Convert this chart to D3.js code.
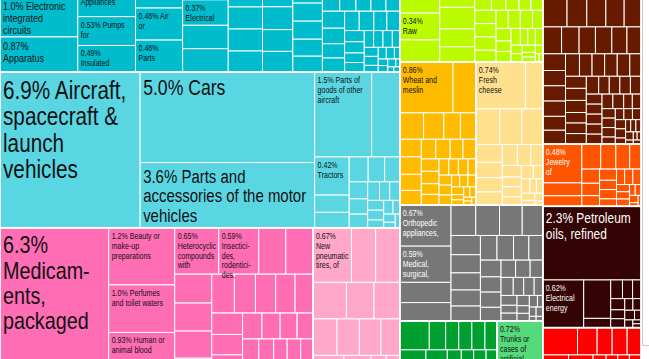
<!DOCTYPE html>
<html>
<head>
<meta charset="utf-8">
<title>Exports treemap</title>
<script src="https://cdn.jsdelivr.net/npm/d3@7/dist/d3.min.js"></script>
<style>
html,body{margin:0;padding:0;background:#fff;overflow:hidden;}
svg{display:block;}
</style>
</head>
<body>
<svg id="chart" width="649" height="359"></svg>
<script>
// ---------------- data: share of total exports (%) ----------------
// Machinery: first four columns of the strip, then the remaining products
const machineryCol1 = [0.31, 1.0, 0.87];
const machineryCol1Names = ["", "Electronic integrated circuits", "Apparatus"];
const machineryCol2 = [0.60, 0.53, 0.49];
const machineryCol2Names = ["Appliances", "Pumps for", "Insulated"];
const machineryCol3 = [0.36, 0.48, 0.48];
const machineryCol3Names = ["", "Air or", "Parts"];
const machineryCol4 = [0.23, 0.37, 0.34, 0.34];
const machineryCol4Names = ["", "Electrical"];
const machineryRest = [0.25,0.24,0.24,0.23,0.22,0.22,0.21,0.2,0.18,0.17,0.17,0.16,0.15,0.15,0.14,0.13,0.13,0.12,0.12,0.11,0.10,0.10,0.09,0.09,0.08,0.08,0.07,0.07,0.06,0.06,0.05,0.05,0.05,0.04,0.04,0.04,0.03,0.03,0.03,0.02,0.02,0.02,0.02,0.01,0.01,0.01];

const transportValues = [6.94,5.02,3.62,1.54,0.76,0.42,0.19,0.17,0.15,0.13,0.12,0.10,0.09,0.08,0.07,0.06,0.06,0.05,0.05,0.04,0.04,0.03,0.03,0.02,0.02];
const transportNames = ["Aircraft, spacecraft & launch vehicles", "Cars", "Parts and accessories of the motor vehicles", "Parts of goods of other aircraft", "", "Tractors"];

const chemicalValues = [6.3,1.2,1.0,0.93,0.70,0.65,0.59,0.40,0.40,0.34,0.33,0.32,0.31,0.3,0.28,0.26,0.25,0.24,0.22,0.21,0.2,0.19,0.18,0.17,0.16,0.15,0.14,0.13,0.12,0.11,0.1,0.1,0.09,0.09,0.08,0.08,0.08,0.07,0.07,0.06,0.06,0.06,0.05,0.05,0.05,0.04,0.04,0.04,0.03,0.03,0.03,0.02,0.02,0.02];
const chemicalNames = ["Medicam\u00ADents, packaged", "Beauty or make-up preparations", "Perfumes and toilet waters", "Human or animal blood", "", "Heterocyclic compounds with", "Insectici\u00ADdes, rodentici\u00ADdes,"];

const plasticValues = [0.67,0.42,0.42,0.39,0.32,0.30,0.28,0.26,0.25,0.22,0.2,0.18,0.16,0.14,0.12,0.11,0.1,0.09,0.08,0.07,0.06,0.05,0.05,0.04,0.03,0.03];
const plasticNames = ["New pneumatic tires, of"];

const vegetableValues = [0.37,0.34,0.28,0.26,0.24,0.2,0.17,0.14,0.12,0.11,0.1,0.1,0.09,0.09,0.09,0.08,0.07,0.07,0.07,0.06,0.06,0.05,0.05,0.05,0.04,0.04,0.04,0.03,0.03,0.03,0.02,0.02,0.02,0.01,0.01];
const vegetableNames = ["", "Raw"];

const cerealValues = [0.86,0.37,0.2,0.17,0.14,0.13,0.12,0.12,0.11,0.1,0.09,0.09,0.08,0.08,0.07,0.07,0.06,0.06,0.05,0.05,0.05,0.04,0.04,0.04,0.04,0.03,0.03,0.03,0.03,0.02,0.02,0.02,0.02,0.01,0.01,0.01];
const cerealNames = ["Wheat and meslin"];

const dairyValues = [0.74,0.26,0.27,0.25,0.24,0.15,0.13,0.12,0.11,0.1,0.09,0.08,0.07,0.06,0.06,0.05,0.05,0.04,0.04,0.03,0.03,0.03,0.02,0.02,0.01];
const dairyNames = ["Fresh cheese"];

const instrumentValues = [0.67,0.59,0.33,0.30,0.24,0.23,0.22,0.2,0.18,0.17,0.16,0.15,0.14,0.13,0.13,0.12,0.11,0.11,0.1,0.1,0.09,0.08,0.08,0.07,0.07,0.06,0.06,0.05,0.05,0.04,0.04,0.04,0.03,0.03,0.03,0.02,0.02,0.02,0.01,0.01];
const instrumentNames = ["Orthopedic appliances,", "Medical, surgical,"];

const textileRow = [0.27,0.15,0.12,0.12,0.12,0.11];
const textileRest = [0.14,0.13,0.12,0.11,0.11,0.1,0.1,0.1,0.09,0.08,0.08,0.07,0.07,0.06,0.06,0.05,0.05,0.05,0.04,0.04,0.04,0.03,0.03,0.03,0.02,0.02,0.02,0.01,0.01];

const leatherValues = [0.72,0.2,0.14,0.1,0.07,0.04,0.03];
const leatherNames = ["Trunks or cases of artificial"];

const stoneRow = [0.33,0.27,0.26,0.25,0.23];
const stoneRest = [0.16,0.15,0.14,0.14,0.13,0.12,0.12,0.11,0.11,0.11,0.1,0.1,0.1,0.09,0.09,0.09,0.09,0.08,0.08,0.08,0.08,0.07,0.07,0.07,0.07,0.06,0.06,0.06,0.06,0.05,0.05,0.05,0.05,0.05,0.05,0.05,0.04,0.04,0.04,0.04,0.04,0.03,0.03,0.03,0.03,0.03,0.03,0.02,0.02,0.02,0.02,0.02,0.01,0.01,0.01,0.01];

const preciousValues = [0.48,0.16,0.13,0.15,0.12,0.11,0.09,0.08,0.07,0.06,0.06,0.05,0.05,0.04,0.04,0.04,0.04,0.03,0.03,0.03,0.02,0.02,0.02,0.01,0.01];
const preciousNames = ["Jewelry of"];

const mineralValues = [2.3,0.62,0.33,0.08,0.07,0.06,0.05,0.05,0.04,0.04,0.03,0.03,0.03,0.02,0.02,0.01,0.01];
const mineralNames = ["Petroleum oils, refined", "Electrical energy"];

const metalRow = [0.3,0.17,0.13,0.13,0.12];
const metalRest = [0.16,0.15,0.14,0.12,0.11,0.1,0.1,0.09,0.08,0.08,0.08,0.07,0.06,0.06,0.05,0.05,0.04,0.04,0.03,0.03,0.02,0.02,0.02,0.01,0.01];

// ---------------- colours ----------------
const COLORS = {
  machinery: "#00bccd", transport: "#5ad6e3", chemicals: "#ff6db5", plastics: "#ffa8c9",
  vegetable: "#bbfb00", cereals: "#ffbb00", dairy: "#ffe08f", instruments: "#777777",
  textiles: "#00a030", leather: "#55d97a", stone: "#661b00", precious: "#ff5500",
  mineral: "#340303", metals: "#ff0000"
};

// ---------------- hierarchy ----------------
const leaves = (vals, names = []) => vals.map((v, i) => ({ value: v, name: names[i] || "" }));
const group = (tile, children) => ({ tile, children });
const sector = (name, color, text, tile, children) => ({ name, color, text, tile, children });
const DARK = "#111", LIGHT = "#fff";

const tree = group("dice", [
  group("slice", [
    sector("Machinery", COLORS.machinery, DARK, "dice", [
      group("slice", leaves(machineryCol1, machineryCol1Names)),
      group("slice", leaves(machineryCol2, machineryCol2Names)),
      group("slice", leaves(machineryCol3, machineryCol3Names)),
      group("slice", leaves(machineryCol4, machineryCol4Names)),
      group("squarify", leaves(machineryRest))
    ]),
    sector("Transportation", COLORS.transport, DARK, "squarify", leaves(transportValues, transportNames)),
    group("dice", [
      sector("Chemical Products", COLORS.chemicals, DARK, "squarify", leaves(chemicalValues, chemicalNames)),
      sector("Plastics and Rubbers", COLORS.plastics, DARK, "squarify", leaves(plasticValues, plasticNames))
    ])
  ]),
  group("slice", [
    sector("Vegetable Products", COLORS.vegetable, DARK, "squarify", leaves(vegetableValues, vegetableNames)),
    group("dice", [
      sector("Cereals", COLORS.cereals, DARK, "squarify", leaves(cerealValues, cerealNames)),
      sector("Dairy", COLORS.dairy, DARK, "squarify", leaves(dairyValues, dairyNames))
    ]),
    sector("Instruments", COLORS.instruments, LIGHT, "squarify", leaves(instrumentValues, instrumentNames)),
    group("dice", [
      sector("Textiles", COLORS.textiles, LIGHT, "slice", [group("dice", leaves(textileRow)), group("squarify", leaves(textileRest))]),
      sector("Animal Hides", COLORS.leather, DARK, "squarify", leaves(leatherValues, leatherNames))
    ])
  ]),
  group("slice", [
    sector("Stone and Glass", COLORS.stone, LIGHT, "slice", [group("dice", leaves(stoneRow)), group("squarify", leaves(stoneRest))]),
    sector("Precious Metals", COLORS.precious, LIGHT, "squarify", leaves(preciousValues, preciousNames)),
    sector("Mineral Products", COLORS.mineral, LIGHT, "squarify", leaves(mineralValues, mineralNames)),
    sector("Metals", COLORS.metals, LIGHT, "slice", [group("dice", leaves(metalRow)), group("squarify", leaves(metalRest))])
  ])
]);

// ---------------- layout ----------------
const FRAME_W = 641, FRAME_TOP = -16, FRAME_H = 426;
const tile = (node, x0, y0, x1, y1) => {
  const t = node.data.tile;
  if (t === "dice") d3.treemapDice(node, x0, y0, x1, y1);
  else if (t === "slice") d3.treemapSlice(node, x0, y0, x1, y1);
  else d3.treemapSquarify(node, x0, y0, x1, y1);
};
const root = d3.hierarchy(tree).sum(d => d.value || 0);
d3.treemap().tile(tile).size([FRAME_W, FRAME_H]).round(false)(root);

// ---------------- text: narrow sans (Liberation Sans compressed to Arial-Narrow width) ----------------
// Text is laid out at a fixed base size and scaled, so widths grow linearly with the font size.
const FONT = '"Liberation Sans", Arial, sans-serif';
const SX = 0.82, BASE = 50;
const svg = d3.select("#chart");
const probe = svg.append("text").attr("x", -3000).attr("y", -3000)
  .attr("font-family", FONT).attr("font-size", BASE);
const widthCache = new Map();
function measureText(t, fs) {
  if (!widthCache.has(t)) { probe.text(t); widthCache.set(t, probe.node().getComputedTextLength()); }
  return widthCache.get(t) * SX * fs / BASE;
}

function wrapLabel(text, maxW, fs) {
  const SH = "\u00AD";
  const clean = s => s.split(SH).join("");
  const lines = [];
  let cur = "";
  for (const w of text.split(" ")) {
    const cand = cur ? cur + " " + clean(w) : clean(w);
    if (measureText(cand, fs) <= maxW || (!cur && !w.includes(SH))) { cur = cand; continue; }
    if (cur) { lines.push(cur); cur = ""; }
    let rest = w;
    while (measureText(clean(rest), fs) > maxW && rest.includes(SH)) {
      const parts = rest.split(SH);
      let k = parts.length - 1;
      while (k > 1 && measureText(parts.slice(0, k).join("") + "-", fs) > maxW) k--;
      lines.push(parts.slice(0, k).join("") + "-");
      rest = parts.slice(k).join(SH);
    }
    cur = clean(rest);
  }
  if (cur) lines.push(cur);
  return lines;
}

// ---------------- drawing ----------------
svg.insert("rect", ":first-child").attr("width", 649).attr("height", 359).attr("fill", "#fff");
const g = svg.append("g").attr("transform", `translate(0,${FRAME_TOP})`);
const sectorOf = d => d.ancestors().find(a => a.data.color);

const cells = root.leaves();
g.selectAll("rect.cell").data(cells).join("rect")
  .attr("class", "cell")
  .attr("x", d => d.x0).attr("y", d => d.y0)
  .attr("width", d => Math.max(0, d.x1 - d.x0)).attr("height", d => Math.max(0, d.y1 - d.y0))
  .attr("fill", d => sectorOf(d).data.color)
  .attr("stroke", "#fff").attr("stroke-width", 1);

const sectorNodes = root.descendants().filter(d => d.data.color);
g.selectAll("rect.sector").data(sectorNodes).join("rect")
  .attr("class", "sector")
  .attr("x", d => d.x0).attr("y", d => d.y0)
  .attr("width", d => d.x1 - d.x0).attr("height", d => d.y1 - d.y0)
  .attr("fill", "none").attr("stroke", "#fff").attr("stroke-width", 1.6);

const fmt = d3.format(".2r");
// big products: size grows with the square root of the share; wide small cells a bit larger
const fontSize = (v, w) => v >= 2 ? Math.min(25.5, 9.6 * Math.sqrt(v)) : (w >= 70 ? 11 : 8.6);

const labelled = cells.filter(d => d.data.name);
const labelLayer = g.append("g");
labelled.forEach(d => {
  const v = d.data.value;
  const w = d.x1 - d.x0;
  const fs = fontSize(v, w);
  const lh = fs + 1.3;
  const lines = wrapLabel(fmt(v) + "% " + d.data.name, w - 11, fs);
  const x = d.x0 + 3;
  let y = d.y0 + fs * 0.93 + 3;
  const col = sectorOf(d).data.text;
  const k = fs / BASE;
  lines.forEach(line => {
    labelLayer.append("text")
      .attr("font-family", FONT)
      .attr("font-size", BASE)
      .attr("fill", col)
      .attr("transform", `translate(${x},${y}) scale(${SX * k},${k})`)
      .text(line);
    y += lh;
  });
});
probe.remove();

// frame edge on the right of the picture
svg.append("path")
  .attr("d", "M642.5,0V345.5H649")
  .attr("fill", "none").attr("stroke", "#c9c9c9").attr("stroke-width", 1);
</script>
</body>
</html>
